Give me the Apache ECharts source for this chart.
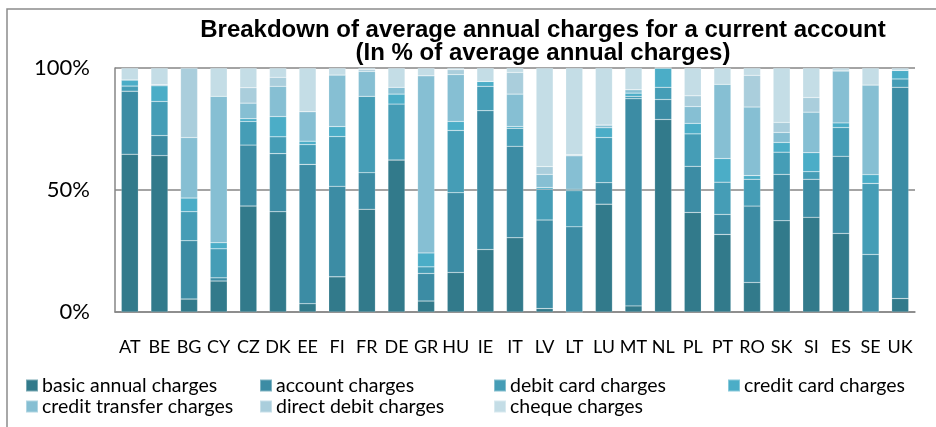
<!DOCTYPE html>
<html>
<head>
<meta charset="utf-8">
<script src="https://cdn.jsdelivr.net/npm/echarts@6/dist/echarts.min.js"></script>
<style>
  html,body{margin:0;padding:0;background:#fff;}
  #box{width:936px;height:427px;}
</style>
</head>
<body>
<div id="box"></div>
<script>
// countries
var countries = ['AT','BE','BG','CY','CZ','DK','EE','FI','FR','DE','GR','HU','IE','IT','LV','LT','LU','MT','NL','PL','PT','RO','SK','SI','ES','SE','UK'];
// share of each charge type, % of average annual charges
var basicAnnual   = [64.7,64.1,5.3,12.7,43.4,41.1,3.4,14.4,42.1,62.3,4.5,16.2,25.6,30.4,1.4,0,44.2,2.5,78.9,40.8,31.8,12.1,37.4,38.8,32.2,0,5.5];
var accountChg    = [25.8,8.2,23.9,1.3,25.0,23.8,57.1,37.1,15.0,0,11.3,32.7,56.9,37.5,36.3,34.9,8.8,84.9,8.2,18.9,8.2,31.3,19.0,15.6,31.6,23.6,86.6];
var debitCard     = [2.1,14.0,11.9,11.9,9.7,6.9,8.1,20.4,31.3,22.9,2.7,25.5,10.0,7.4,12.6,14.8,18.5,1.0,5.0,13.3,13.2,11.0,9.1,3.1,11.8,29.1,3.4];
var creditCard    = [2.5,6.4,5.6,2.5,1.1,8.3,1.4,4.1,0,4.1,5.7,3.7,2.0,0.7,0.7,0.6,4.0,1.3,7.9,4.3,9.7,1.5,4.0,7.8,1.9,3.6,3.5];
var creditTransfer= [0,0.5,24.8,60.0,6.4,12.4,12.1,21.1,10.2,2.8,72.6,19.2,0,13.3,5.4,13.7,1.1,1.4,0,6.9,30.4,28.1,4.1,16.6,21.3,36.7,0];
var directDebit   = [0,0,28.5,0,6.3,3.7,0,0,0.7,0,0,2.0,0,8.9,3.2,0.4,0,0,0,4.4,0,13.0,4.1,6.0,0,0,0];
var chequeChg     = [4.9,6.8,0,11.6,8.1,3.8,17.9,2.9,0.7,7.9,3.2,0.7,5.5,1.8,40.4,35.6,23.4,8.9,0,11.4,6.7,3.0,22.3,12.1,1.2,7.0,1.0];

var seriesNames = ['basic annual charges','account charges','debit card charges','credit card charges','credit transfer charges','direct debit charges','cheque charges'];
var seriesData = [basicAnnual,accountChg,debitCard,creditCard,creditTransfer,directDebit,chequeChg];
var colors = ['#327a8b','#3c8ca4','#459db6','#4badc7','#86bfd3','#aacedc','#c4dde6'];

var myChart = echarts.init(document.getElementById('box'), null, {renderer:'canvas'});

var series = [];
for(var i=0;i<seriesNames.length;i++){
  series.push({
    name: seriesNames[i],
    type: 'bar',
    stack: 'total',
    barWidth: 17,
    data: seriesData[i],
    itemStyle: {color: colors[i], borderColor: 'rgba(255,255,255,0.35)', borderWidth: 0.5}
  });
}

// legend laid out as 4 columns, 2 rows (filled row by row)
var legendCols = [
  [seriesNames[0], seriesNames[4]],
  [seriesNames[1], seriesNames[5]],
  [seriesNames[2], seriesNames[6]],
  [seriesNames[3]]
];
var legends = [];
for(var c=0;c<legendCols.length;c++){
  legends.push({
    data: legendCols[c],
    orient: 'vertical',
    left: 25 + c*234,
    top: 375,
    padding: 0,
    itemWidth: 12,
    itemHeight: 12,
    itemGap: 0,
    icon: 'rect',
    textStyle: {fontFamily: 'Lato', fontSize: 19.5, lineHeight: 21, color: '#000', padding: [0,0,0,-1]}
  });
}

var option = {
  animation: false,
  backgroundColor: '#fff',
  color: colors,
  title: {
    text: 'Breakdown of average annual charges for a current account\n(In % of average annual charges)',
    left: 538,
    top: 14,
    textAlign: 'center',
    textStyle: {fontFamily: 'Liberation Sans', fontWeight: 'bold', fontSize: 24, lineHeight: 23, color: '#000'}
  },
  graphic: [
    {type:'rect', shape:{x:7,y:9,width:1000,height:1000}, style:{fill:'none', stroke:'#8c8c8c', lineWidth:1.5}, silent:true},
    {type:'text', left:4, top:-13, style:{text:'Chart 6', font:'italic bold 17px "Liberation Serif"', fill:'#000'}}
  ],
  legend: legends,
  grid: {left: 115, right: 21, top: 68, bottom: 115},
  xAxis: {
    type: 'category',
    data: countries,
    axisLine: {lineStyle: {color: '#868686', width: 1.5}},
    axisTick: {show: false},
    axisLabel: {interval: 0, color: '#000', fontFamily: 'Lato', fontSize: 18, margin: 26}
  },
  yAxis: {
    type: 'value',
    min: 0,
    max: 100,
    interval: 50,
    axisLine: {show: true, lineStyle: {color: '#868686', width: 1.5}},
    axisTick: {show: false},
    splitLine: {lineStyle: {color: '#868686', width: 1.5}},
    axisLabel: {formatter: '{value}%', color: '#000', fontFamily: 'Lato', fontSize: 22, margin: 25}
  },
  series: series
};

myChart.setOption(option);
</script>
</body>
</html>
